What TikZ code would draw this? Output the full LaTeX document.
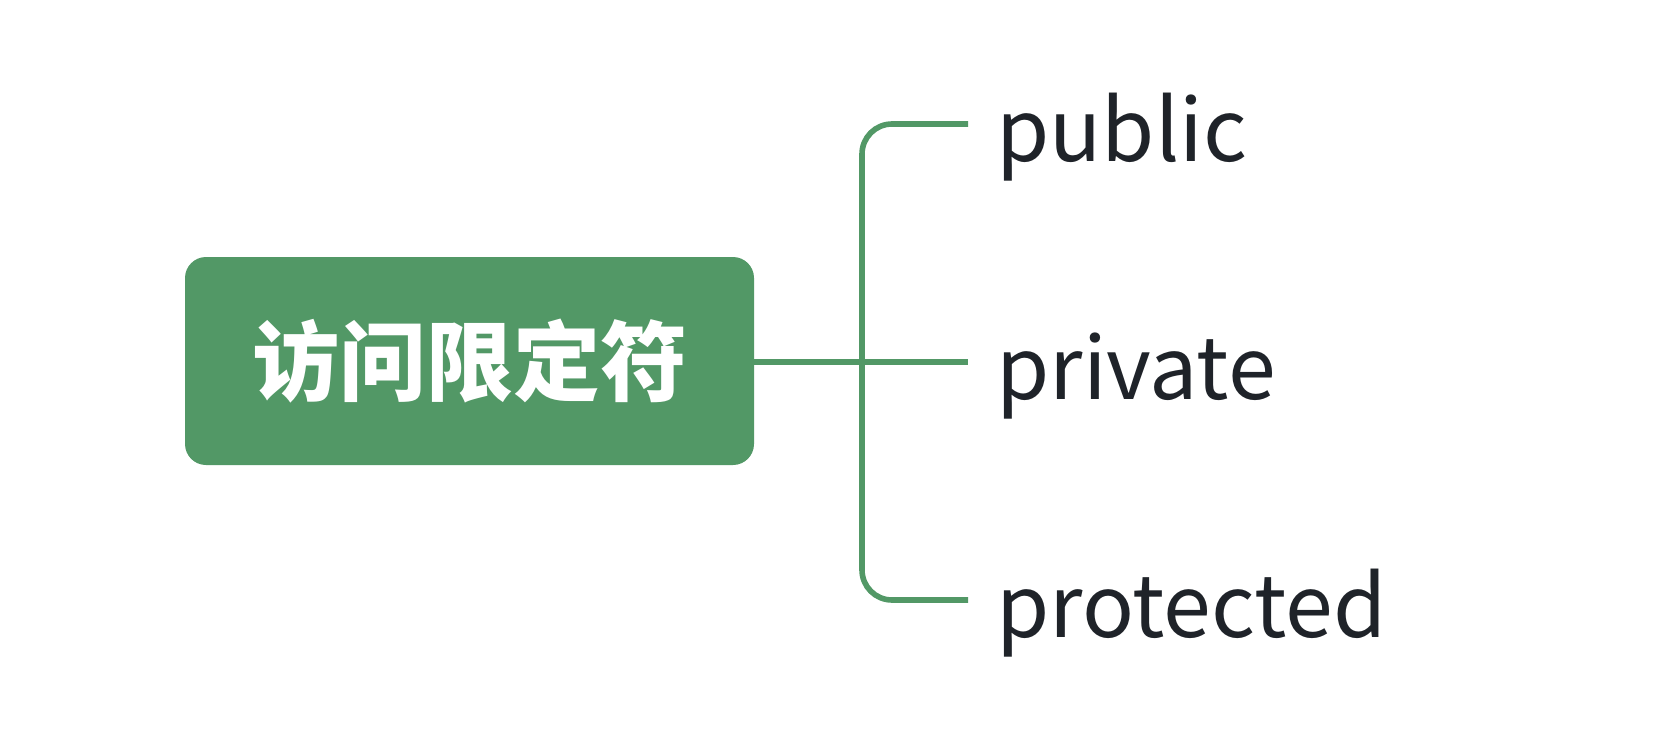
\documentclass[tikz,border=0pt]{standalone}
\usepackage{fontspec}
\setmainfont{Noto Sans CJK SC}
\usepackage{tikz}
\definecolor{mapgreen}{RGB}{82,152,102}
\definecolor{labelink}{RGB}{31,35,41}
\tikzset{
    rootbox/.style={fill=mapgreen, rounded corners=10.5pt, minimum width=284.5pt, minimum height=104pt, text=white, font=\fontsize{43.5}{50}\selectfont\bfseries},
    leaf/.style={anchor=base west, inner sep=0pt, text=labelink, font=\fontsize{43}{50}\selectfont},
    branch/.style={draw=mapgreen, line width=2.8pt}
}

\begin{document}
\begin{tikzpicture}[x=0.5pt, y=-0.5pt]
    % Frame
    \useasboundingbox (0,0) rectangle (1658,744);

    % Root
    \node[rootbox] (root) at (469.5,361) {\raisebox{-4pt}{访问限定符}};

    % Leaves
    \node[leaf] (pub) at (996,161) {public};
    \node[leaf] (priv) at (996,399) {private};
    \node[leaf] (prot) at (996,637) {protected};

    % Line ends
    \coordinate (pubin) at (968,124);
    \coordinate (privin) at (968,362);
    \coordinate (protin) at (968,600);

    % Branches
    \draw[branch] (root.east |- privin) -- (privin);
    \draw[branch, rounded corners=15pt] (pubin) -- (862,124) -- (862,600) -- (protin);
\end{tikzpicture}
\end{document}
